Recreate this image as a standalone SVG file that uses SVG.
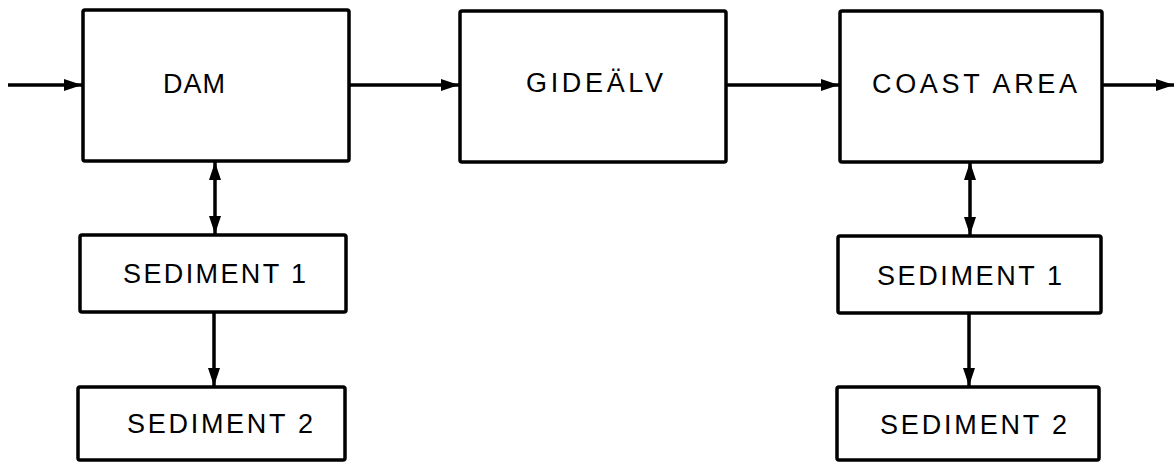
<svg xmlns="http://www.w3.org/2000/svg" width="1174" height="462" viewBox="0 0 1174 462">
<style>
.box{fill:#fff;stroke:#000;stroke-width:3.5;}
.lbl{font-family:"Liberation Sans",Arial,sans-serif;font-size:27px;fill:#000;}
.con{stroke:#000;stroke-width:3.5;fill:none;}
</style>
<defs>
<marker id="ah" viewBox="0 0 18 14" refX="18" refY="7" markerWidth="18" markerHeight="14" markerUnits="userSpaceOnUse" orient="auto-start-reverse">
<path d="M0,1 L18,7 L0,13 Z" fill="#000"/>
</marker>
</defs>
<rect width="1174" height="462" fill="#fff"/>
<g id="connectors">
<line class="con" x1="8" y1="85" x2="82" y2="85" marker-end="url(#ah)"/>
<line class="con" x1="349" y1="85" x2="459" y2="85" marker-end="url(#ah)"/>
<line class="con" x1="726" y1="85" x2="839" y2="85" marker-end="url(#ah)"/>
<line class="con" x1="1102" y1="85" x2="1174" y2="85" marker-end="url(#ah)"/>
<line class="con" x1="215" y1="162" x2="215" y2="234" marker-start="url(#ah)" marker-end="url(#ah)"/>
<line class="con" x1="214" y1="313" x2="214" y2="386" marker-end="url(#ah)"/>
<line class="con" x1="970" y1="162" x2="970" y2="235" marker-start="url(#ah)" marker-end="url(#ah)"/>
<line class="con" x1="969" y1="314" x2="969" y2="386" marker-end="url(#ah)"/>
</g>
<g id="dam">
<rect class="box" x="83" y="10" width="266" height="151" rx="2"/>
<text class="lbl" x="163" y="93" textLength="62">DAM</text>
</g>
<g id="gidealv">
<rect class="box" x="460" y="11" width="266" height="151" rx="2"/>
<text class="lbl" x="526" y="92" textLength="137">GIDEÄLV</text>
</g>
<g id="coast">
<rect class="box" x="840" y="11" width="262" height="151" rx="2"/>
<text class="lbl" x="872" y="93" textLength="205">COAST AREA</text>
</g>
<g id="sed1-left">
<rect class="box" x="80" y="235" width="266" height="77" rx="2"/>
<text class="lbl" x="123" y="283" textLength="183">SEDIMENT 1</text>
</g>
<g id="sed2-left">
<rect class="box" x="78" y="387" width="267" height="73" rx="2"/>
<text class="lbl" x="127" y="433" textLength="186">SEDIMENT 2</text>
</g>
<g id="sed1-right">
<rect class="box" x="838" y="236" width="263" height="77" rx="2"/>
<text class="lbl" x="877" y="285" textLength="185">SEDIMENT 1</text>
</g>
<g id="sed2-right">
<rect class="box" x="837" y="387" width="262" height="73" rx="2"/>
<text class="lbl" x="880" y="434" textLength="187">SEDIMENT 2</text>
</g>
</svg>
